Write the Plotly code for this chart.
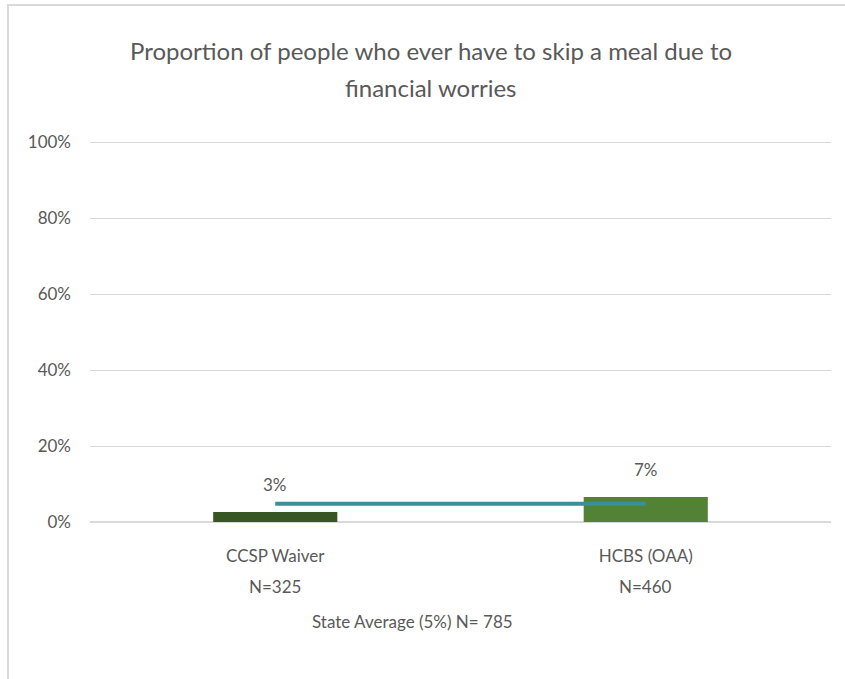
import plotly.graph_objects as go

categories = ["CCSP Waiver", "HCBS (OAA)"]
n_values = ["N=325", "N=460"]
values = [0.026, 0.066]
state_average = 0.048
bar_colors = ["#375623", "#548235"]
y_ticks = [0, 0.2, 0.4, 0.6, 0.8, 1.0]
title_lines = ["Proportion of people who ever have to skip a meal due to", "financial worries"]
x_title = "State Average (5%) N= 785"

FONT = "Lato, sans-serif"
GRAY = "#595959"

# plot area in pixels (100% sits at y=142, 0% at y=522)
L, R, T, B = 90, 831, 134, 522
W, H = R - L, B - T
SCALE = 380.0  # px per 100%


def px(x):
    return (x - L) / W


def py(y):
    return (B - y) / H


fig = go.Figure()
fig.add_trace(go.Bar(
    x=categories, y=values, marker=dict(color=bar_colors, line=dict(width=0)),
    width=0.335, showlegend=False, hoverinfo="skip",
))
fig.add_trace(go.Scatter(
    x=categories, y=[state_average] * len(categories), mode="lines",
    line=dict(color="#3A8F9A", width=4), showlegend=False, hoverinfo="skip",
))

for c, v in zip(categories, values):
    fig.add_annotation(x=c, y=v, text=f"{v:.0%}", showarrow=False,
                       yanchor="bottom", yshift=15,
                       font=dict(family=FONT, size=17, color=GRAY))

for c, n in zip(categories, n_values):
    fig.add_annotation(x=c, yref="paper", y=py(586), text=n, showarrow=False,
                       yanchor="middle", font=dict(family=FONT, size=17, color=GRAY))

for i, line in enumerate(title_lines):
    fig.add_annotation(xref="paper", yref="paper", x=px(431), y=py([50, 87][i]),
                       text=line, showarrow=False, xanchor="center", yanchor="middle",
                       font=dict(family=FONT, size=24, color=GRAY))

fig.add_annotation(xref="paper", yref="paper", x=px(412), y=py(621),
                   text=x_title, showarrow=False, xanchor="center", yanchor="middle",
                   font=dict(family=FONT, size=17, color=GRAY))

# chart border (top & left visible)
fig.add_shape(type="rect", xref="paper", yref="paper",
              x0=px(8), x1=px(870), y0=py(700), y1=py(5),
              line=dict(color="#D9D9D9", width=2), layer="below")

fig.update_layout(
    width=845, height=679,
    margin=dict(l=L, r=845 - R, t=T, b=679 - B),
    paper_bgcolor="white", plot_bgcolor="white",
    font=dict(family=FONT, color=GRAY),
    xaxis=dict(showgrid=False, showline=False, ticks="", tickfont=dict(size=17, color=GRAY),
               ticklabelstandoff=22),
    yaxis=dict(range=[0, H / SCALE], tickvals=y_ticks, tickformat=".0%", showgrid=True,
               gridcolor="#D9D9D9", gridwidth=1, zeroline=True, zerolinecolor="#D9D9D9",
               showline=False, ticks="", tickfont=dict(size=17, color=GRAY),
               ticklabelstandoff=18),
)

fig.write_html("out.html", config={"displayModeBar": False},
               post_script="document.body.style.margin='0';")
